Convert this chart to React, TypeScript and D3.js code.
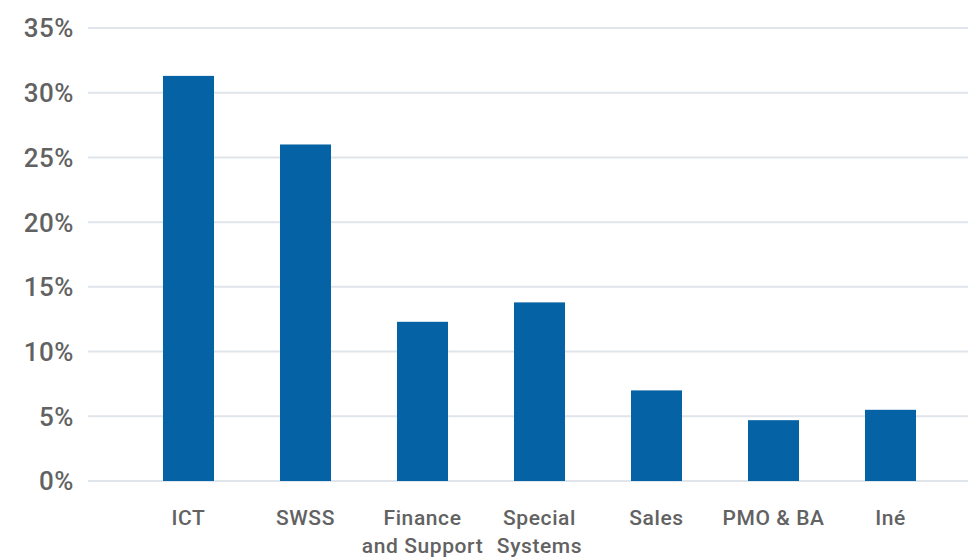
import React from "react";
import * as d3 from "d3";

const categories: string[][] = [
  ["ICT"],
  ["SWSS"],
  ["Finance", "and Support"],
  ["Special", "Systems"],
  ["Sales"],
  ["PMO & BA"],
  ["Iné"],
];
const values = [31.3, 26.0, 12.3, 13.8, 7.0, 4.7, 5.5];
const yTicks = [0, 5, 10, 15, 20, 25, 30, 35];

const W = 968;
const H = 558;

export default function App() {
  const keys = categories.map((c) => c.join(" "));
  const x = d3
    .scaleBand<string>()
    .domain(keys)
    .range([130, 949])
    .paddingInner(0.564)
    .paddingOuter(0.282);
  const y = d3.scaleLinear().domain([0, 35]).range([481, 28]);

  return (
    <svg
      width={W}
      height={H}
      style={{ position: "absolute", left: 0, top: 0, background: "#fff" }}
    >
      {yTicks.map((t) => (
        <g key={t}>
          <line
            x1={88}
            x2={W}
            y1={y(t)}
            y2={y(t)}
            stroke="#dfe5ea"
            strokeWidth={2}
          />
          <text
            x={74}
            y={y(t)}
            dy="0.36em"
            textAnchor="end"
            fontFamily="Roboto, 'Noto Sans', sans-serif"
            fontWeight={500}
            fontSize={26}
            letterSpacing={0.5}
            fill="#626262"
          >
            {t}%
          </text>
        </g>
      ))}
      {values.map((v, i) => (
        <rect
          key={keys[i]}
          x={x(keys[i])}
          y={y(v)}
          width={x.bandwidth()}
          height={y(0) - y(v)}
          fill="#0563a5"
        />
      ))}
      {categories.map((lines, i) => (
        <text
          key={keys[i]}
          x={(x(keys[i]) as number) + x.bandwidth() / 2}
          y={525}
          textAnchor="middle"
          fontFamily="Roboto, 'Noto Sans', sans-serif"
          fontWeight={500}
          fontSize={21}
          letterSpacing={0.6}
          fill="#626262"
        >
          {lines.map((l, j) => (
            <tspan key={j} x={(x(keys[i]) as number) + x.bandwidth() / 2} dy={j === 0 ? 0 : 28}>
              {l}
            </tspan>
          ))}
        </text>
      ))}
    </svg>
  );
}
